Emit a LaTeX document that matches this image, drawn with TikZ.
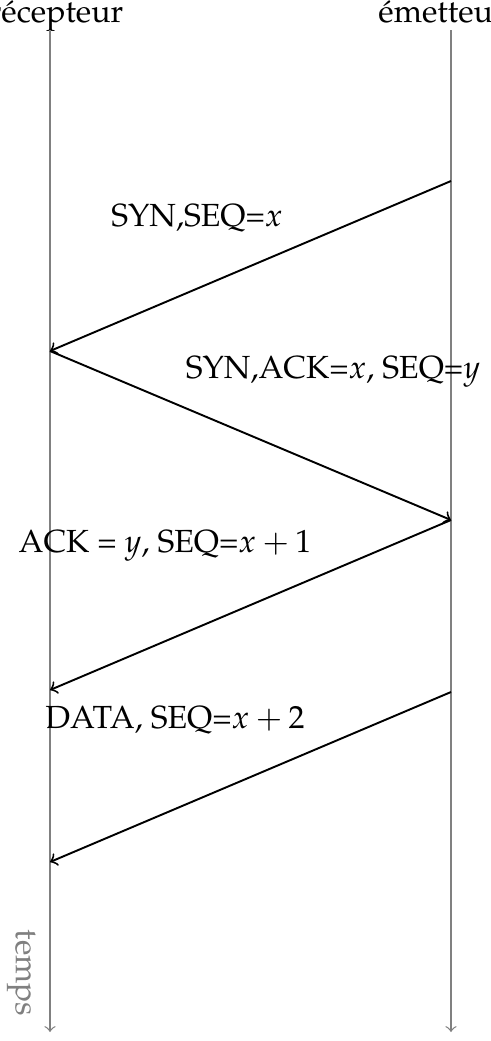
\documentclass[tikz,border=0pt]{standalone}
\usepackage[T1]{fontenc}
\usepackage{mathpazo}
\begin{document}
\begin{tikzpicture}[x=0.3125pt,y=-0.3125pt,
  msg/.style={->,semithick,black},
  life/.style={->,gray},
  lbl/.style={anchor=base,inner sep=0pt}]
\useasboundingbox (0,0) rectangle (491,1041);
\node[lbl] (r) at (56,22) {r\'ecepteur};
\node[lbl] (e) at (442,22) {\'emetteur};
\coordinate (rt) at (50,30);
\coordinate (rb) at (50,1032);
\coordinate (et) at (451,30);
\coordinate (eb) at (451,1032);
\draw[life] (rt) -- (rb);
\draw[life] (et) -- (eb);
\coordinate (e1) at (451,181);
\coordinate (r1) at (50,351);
\coordinate (e2) at (451,520);
\coordinate (r2) at (50,690);
\coordinate (e3) at (451,692);
\coordinate (r3) at (50,862);
\draw[msg] (e1) -- (r1);
\draw[msg] (r1) -- (e2);
\draw[msg] (e2) -- (r2);
\draw[msg] (e3) -- (r3);
\node[lbl] (l1) at (197,226) {SYN,SEQ=$x$};
\node[lbl] (l2) at (333,378) {SYN,ACK=$x$, SEQ=$y$};
\node[lbl] (l3) at (165,552) {ACK = $y$, SEQ=$x+1$};
\node[lbl] (l4) at (175,728) {DATA, SEQ=$x+2$};
\node[gray,rotate=-90,inner sep=0pt] (t) at (21,973) {temps};
\end{tikzpicture}
\end{document}
